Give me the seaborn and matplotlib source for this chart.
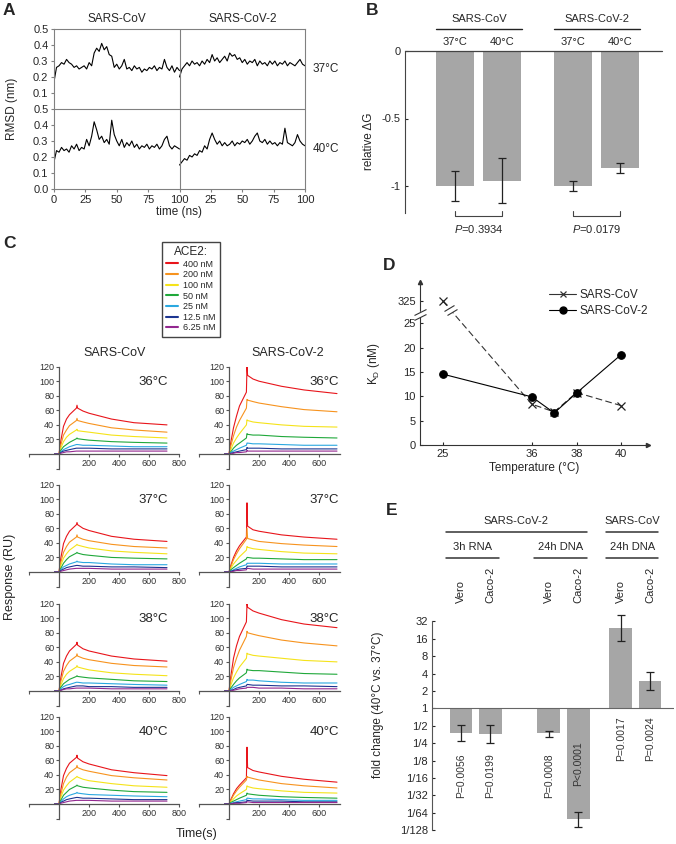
import numpy as np
import matplotlib
matplotlib.use('Agg')
import matplotlib.pyplot as plt
from matplotlib.lines import Line2D
from matplotlib.markers import MarkerStyle
from matplotlib.transforms import Affine2D
import seaborn as sns

sns.set_style('ticks')
plt.rcParams['font.family'] = ['Liberation Sans', 'DejaVu Sans']
plt.rcParams['mathtext.fontset'] = 'custom'
plt.rcParams['mathtext.rm'] = 'Liberation Sans'
plt.rcParams['mathtext.it'] = 'Liberation Sans:italic'

# ---------------- data ----------------
# A: RMSD traces (nm), every 2 ns
rmsd_time = list(range(0, 101, 2))
rmsd_cov_37 = [0.17, 0.26, 0.27, 0.29, 0.28, 0.31, 0.29, 0.28, 0.26, 0.27, 0.25, 0.26, 0.27, 0.25, 0.29, 0.27,
               0.35, 0.38, 0.36, 0.41, 0.37, 0.39, 0.34, 0.33, 0.26, 0.28, 0.25, 0.27, 0.31, 0.25, 0.26, 0.24,
               0.27, 0.25, 0.26, 0.23, 0.25, 0.24, 0.26, 0.25, 0.27, 0.24, 0.26, 0.25, 0.31, 0.26, 0.24, 0.27,
               0.23, 0.26, 0.24]
rmsd_cov2_37 = [0.20, 0.25, 0.27, 0.29, 0.27, 0.30, 0.28, 0.29, 0.27, 0.30, 0.28, 0.31, 0.29, 0.34, 0.30, 0.32,
                0.29, 0.31, 0.33, 0.30, 0.35, 0.33, 0.34, 0.31, 0.32, 0.29, 0.31, 0.28, 0.30, 0.29, 0.31, 0.27,
                0.30, 0.28, 0.29, 0.27, 0.30, 0.28, 0.30, 0.27, 0.29, 0.28, 0.30, 0.27, 0.29, 0.28, 0.27, 0.29,
                0.31, 0.28, 0.27]
rmsd_cov_40 = [0.17, 0.24, 0.23, 0.26, 0.24, 0.25, 0.23, 0.27, 0.25, 0.28, 0.24, 0.26, 0.25, 0.31, 0.27, 0.33,
               0.42, 0.37, 0.31, 0.33, 0.29, 0.31, 0.28, 0.43, 0.34, 0.30, 0.27, 0.31, 0.26, 0.29, 0.27, 0.30,
               0.26, 0.28, 0.25, 0.27, 0.26, 0.28, 0.25, 0.27, 0.26, 0.28, 0.25, 0.27, 0.31, 0.33, 0.27, 0.25,
               0.27, 0.26, 0.25]
rmsd_cov2_40 = [0.15, 0.17, 0.19, 0.18, 0.21, 0.20, 0.22, 0.21, 0.24, 0.23, 0.27, 0.25, 0.31, 0.35, 0.31, 0.28,
                0.30, 0.27, 0.29, 0.27, 0.28, 0.30, 0.27, 0.29, 0.28, 0.30, 0.29, 0.31, 0.28, 0.30, 0.33, 0.35,
                0.30, 0.29, 0.31, 0.28, 0.30, 0.28, 0.29, 0.27, 0.29, 0.28, 0.38, 0.29, 0.28, 0.27, 0.29, 0.34,
                0.30, 0.28, 0.27]

# B: relative dG
dg_labels = ['37°C', '40°C', '37°C', '40°C']
dg_vals = [-1.0, -0.96, -1.0, -0.87]
dg_err = [0.11, 0.165, 0.04, 0.037]
dg_pvals = ['$P$=0.3934', '$P$=0.0179']

# C: SPR sensorgrams (RU) for ACE2 concentrations
ace2_labels = ['400 nM', '200 nM', '100 nM', '50 nM', '25 nM', '12.5 nM', '6.25 nM']
ace2_colors = ['#e8151b', '#f7931e', '#f5e31a', '#1fa83a', '#2aa8e0', '#1c3591', '#93278f']
spr_time = [-30, 0, 12, 30, 50, 70, 116, 120, 124, 160, 200, 350, 500, 720]
spr_temps = ['36°C', '37°C', '38°C', '40°C']
cov_36 = [[0, 0, 18, 38, 48, 54, 63, 67, 63, 59, 56, 48, 43, 40],
          [0, 0, 12, 26, 33, 39, 46, 49, 46, 44, 42, 36, 33, 30],
          [0, 0, 8, 17, 23, 27, 33, 34, 32, 31, 30, 26, 24, 22],
          [0, 0, 5, 10, 13, 16, 21, 22, 21, 20, 19, 17, 16, 15],
          [0, 0, 3, 6, 8, 10, 13, 13, 13, 12, 12, 11, 10, 10],
          [0, 0, 2, 4, 5, 6, 8, 8, 8, 8, 8, 7, 7, 7],
          [0, 0, 1, 2, 3, 3, 4, 4, 4, 4, 4, 4, 4, 4]]
cov_37 = [[0, 0, 19, 39, 49, 56, 65, 68, 65, 60, 57, 49, 45, 42],
          [0, 0, 13, 27, 35, 41, 48, 51, 48, 45, 43, 38, 35, 33],
          [0, 0, 9, 19, 25, 30, 37, 38, 37, 35, 33, 29, 27, 25],
          [0, 0, 5, 12, 17, 21, 26, 27, 26, 24, 23, 20, 19, 18],
          [0, 0, 3, 7, 9, 11, 14, 15, 14, 13, 13, 11, 10, 10],
          [0, 0, 2, 4, 6, 7, 9, 9, 9, 8, 8, 7, 7, 6],
          [0, 0, 1, 2, 3, 4, 5, 5, 5, 5, 5, 4, 4, 4]]
cov_38 = [[0, 0, 18, 38, 48, 55, 64, 67, 63, 58, 55, 48, 44, 41],
          [0, 0, 13, 27, 35, 41, 48, 51, 48, 45, 43, 38, 35, 33],
          [0, 0, 8, 17, 23, 27, 33, 35, 33, 31, 29, 25, 23, 21],
          [0, 0, 5, 10, 13, 16, 20, 21, 20, 19, 18, 16, 14, 13],
          [0, 0, 3, 6, 8, 9, 12, 12, 12, 11, 11, 10, 9, 8],
          [0, 0, 1, 3, 4, 5, 7, 7, 7, 7, 6, 6, 5, 5],
          [0, 0, 1, 2, 3, 3, 4, 4, 4, 4, 4, 3, 3, 3]]
cov_40 = [[0, 0, 19, 39, 49, 56, 64, 67, 63, 58, 55, 47, 43, 39],
          [0, 0, 13, 28, 37, 43, 50, 53, 50, 47, 45, 39, 36, 33],
          [0, 0, 9, 19, 25, 30, 37, 38, 37, 34, 32, 28, 25, 23],
          [0, 0, 5, 12, 16, 20, 25, 26, 25, 23, 22, 19, 17, 16],
          [0, 0, 3, 7, 10, 12, 15, 16, 15, 14, 13, 12, 11, 10],
          [0, 0, 2, 4, 6, 7, 9, 9, 9, 8, 8, 7, 6, 6],
          [0, 0, 1, 2, 3, 4, 5, 5, 5, 5, 5, 4, 4, 4]]
cov2_36 = [[0, 0, 16, 36, 52, 66, 85, 120, 108, 103, 100, 93, 88, 83],
           [0, 0, 11, 25, 37, 46, 63, 75, 74, 72, 70, 65, 61, 58],
           [0, 0, 6, 15, 22, 28, 40, 47, 46, 44, 43, 40, 38, 37],
           [0, 0, 3, 8, 12, 15, 22, 28, 27, 26, 26, 24, 23, 22],
           [0, 0, 2, 4, 6, 8, 12, 15, 15, 14, 14, 13, 12, 12],
           [0, 0, 1, 2, 3, 4, 6, 9, 8, 8, 8, 7, 7, 7],
           [0, 0, 0, 1, 2, 2, 3, 5, 4, 4, 4, 4, 4, 4]]
cov2_37 = [[0, 0, 9, 20, 29, 36, 48, 95, 63, 58, 56, 51, 48, 45],
           [0, 0, 7, 17, 25, 32, 45, 60, 46, 44, 42, 39, 37, 35],
           [0, 0, 5, 11, 16, 21, 30, 35, 34, 32, 31, 28, 26, 25],
           [0, 0, 3, 6, 9, 12, 18, 20, 20, 19, 19, 18, 17, 17],
           [0, 0, 1, 3, 5, 7, 10, 12, 12, 12, 12, 11, 11, 11],
           [0, 0, 1, 2, 3, 4, 5, 8, 8, 8, 8, 7, 7, 7],
           [0, 0, 0, 1, 2, 2, 3, 5, 5, 4, 4, 4, 4, 4]]
cov2_38 = [[0, 0, 20, 45, 62, 75, 95, 120, 115, 110, 107, 98, 92, 87],
           [0, 0, 14, 32, 45, 56, 75, 82, 80, 78, 76, 70, 66, 62],
           [0, 0, 8, 18, 26, 33, 45, 52, 51, 49, 48, 45, 42, 40],
           [0, 0, 4, 9, 14, 18, 25, 30, 29, 28, 28, 26, 24, 23],
           [0, 0, 2, 5, 7, 9, 13, 16, 15, 15, 14, 12, 11, 11],
           [0, 0, 1, 2, 4, 5, 7, 9, 9, 8, 8, 7, 7, 6],
           [0, 0, 0, 1, 2, 3, 4, 5, 5, 5, 4, 4, 3, 3]]
cov2_40 = [[0, 0, 6, 14, 21, 26, 36, 78, 50, 46, 44, 38, 34, 30],
           [0, 0, 5, 12, 18, 23, 33, 38, 37, 35, 33, 28, 25, 22],
           [0, 0, 3, 7, 11, 14, 20, 25, 24, 22, 21, 18, 16, 15],
           [0, 0, 2, 4, 6, 8, 12, 15, 14, 13, 12, 10, 9, 8],
           [0, 0, 1, 2, 3, 4, 6, 8, 8, 7, 7, 6, 5, 5],
           [0, 0, 0, 1, 2, 2, 3, 5, 5, 4, 4, 4, 3, 3],
           [0, 0, 0, 1, 1, 1, 2, 3, 3, 2, 2, 2, 2, 2]]

# D: KD vs temperature
kd_temps = [25, 36, 37, 38, 40]
kd_cov = [325, 8.4, 6.8, 10.8, 8.1]
kd_cov2 = [14.6, 9.9, 6.6, 10.7, 18.6]

# E: fold change 40°C vs 37°C
e_cells = ['Vero', 'Caco-2', 'Vero', 'Caco-2', 'Vero', 'Caco-2']
e_fold = [0.37, 0.36, 0.37, 0.012, 24.5, 3.0]
e_lo = [0.275, 0.25, 0.32, 0.0088, 14.4, 2.07]
e_hi = [0.51, 0.51, 0.41, 0.0163, 42.0, 4.29]
e_pvals = ['P=0.0056', 'P=0.0199', 'P=0.0008', 'P<0.0001', 'P=0.0017', 'P=0.0024']
e_ticklabels = ['1/128', '1/64', '1/32', '1/16', '1/8', '1/4', '1/2', '1', '2', '4', '8', '16', '32']

# ---------------- figure ----------------
W, H = 676, 844
fig = plt.figure(figsize=(W / 100, H / 100), dpi=100)
GRAY = '#a6a6a6'


def box(l, t, r, b):
    return [l / W, 1 - b / H, (r - l) / W, (b - t) / H]


def ftext(x, y, s, **kw):
    fig.text(x / W, 1 - y / H, s, **kw)


for letter, x, y in [('A', 3, 3), ('B', 366, 3), ('C', 3, 236), ('D', 383, 258), ('E', 386, 503)]:
    ftext(x, y, letter, fontsize=12.5, fontweight='bold', va='top')

# ---- A ----
axA = fig.add_axes(box(54, 29, 305, 189))
tA = np.array(rmsd_time)
for vals, dx, dy in [(rmsd_cov_37, 0, 0.5), (rmsd_cov2_37, 100, 0.5),
                     (rmsd_cov_40, 0, 0.0), (rmsd_cov2_40, 100, 0.0)]:
    sns.lineplot(x=tA + dx, y=np.array(vals) + dy, ax=axA, color='black', linewidth=0.8)
axA.axvline(100, color='#808080', lw=0.8)
axA.axhline(0.5, color='#808080', lw=0.8)
axA.set_xlim(0, 200)
axA.set_ylim(0, 1)
axA.set_xticks(np.arange(0, 201, 25))
axA.set_xticklabels(['0', '25', '50', '75', '100', '25', '50', '75', '100'])
axA.set_yticks(np.linspace(0, 1, 11))
axA.set_yticklabels(['0.0', '0.1', '0.2', '0.3', '0.4', '0.5', '0.1', '0.2', '0.3', '0.4', '0.5'])
axA.tick_params(labelsize=8, length=2.5, width=0.8, pad=1.5, color='#808080')
for sp in axA.spines.values():
    sp.set_color('#808080')
    sp.set_linewidth(0.8)
axA.set_xlabel('time (ns)', fontsize=8.5, labelpad=1)
axA.set_ylabel('RMSD (nm)', fontsize=8.5)
axA.yaxis.set_label_coords(-0.145, 0.5)
for xc, name in [(50, 'SARS-CoV'), (150, 'SARS-CoV-2')]:
    axA.text(xc, 1.0625, name, transform=axA.get_xaxis_transform(), ha='center', va='center', fontsize=8.5)
axA.text(1.03, 0.75, '37°C', transform=axA.transAxes, ha='left', va='center', fontsize=8.5)
axA.text(1.03, 0.25, '40°C', transform=axA.transAxes, ha='left', va='center', fontsize=8.5)

# ---- B ----
axB = fig.add_axes(box(405, 51, 662, 213))
dg_pos = [0, 1, 2.5, 3.5]
sns.barplot(x=dg_pos, y=dg_vals, native_scale=True, width=0.81, color=GRAY, saturation=1,
            errorbar=None, linewidth=0, ax=axB)
axB.errorbar(dg_pos, dg_vals, yerr=dg_err, fmt='none', ecolor='#222', elinewidth=0.9,
             capsize=3, capthick=0.9, clip_on=False)
axB.set_xlim(-1.06, 4.39)
axB.set_ylim(-1.2, 0)
axB.axhline(0, color='#444', lw=0.9, clip_on=False)
for s in ['top', 'right', 'bottom']:
    axB.spines[s].set_visible(False)
axB.spines['left'].set_color('#444')
axB.spines['left'].set_linewidth(0.8)
axB.set_xticks([])
axB.set_yticks([-1, -0.5, 0])
axB.set_yticklabels(['-1', '-0.5', '0'])
axB.tick_params(axis='y', labelsize=8, length=2, width=0.8, direction='in', pad=3)
axB.set_ylabel('relative ΔG', fontsize=8.5)
axB.yaxis.set_label_coords(-0.115, 0.44)
trB = axB.get_xaxis_transform()
for x, lab in zip(dg_pos, dg_labels):
    axB.text(x, 1.056, lab, transform=trB, ha='center', va='center', fontsize=8)
for i, name in [(0, 'SARS-CoV'), (2, 'SARS-CoV-2')]:
    x0, x1 = dg_pos[i] - 0.4, dg_pos[i + 1] + 0.42
    axB.plot([x0, x1], [1.136, 1.136], transform=trB, color='#222', lw=1.0, clip_on=False)
    axB.text((x0 + x1) / 2, 1.198, name, transform=trB, ha='center', va='center', fontsize=8)
    xa, xb = dg_pos[i], dg_pos[i + 1]
    axB.plot([xa, xa, xb, xb], [0.014, -0.019, -0.019, 0.014], transform=trB, color='#444', lw=0.8,
             clip_on=False)
    axB.text((xa + xb) / 2, -0.1, dg_pvals[i // 2], transform=trB, ha='center', va='center', fontsize=8)

# ---- C ----
row_zero = [454, 572, 691, 804]
px_per_ru = 0.728
px_per_s = 0.15
cov_panels = [cov_36, cov_37, cov_38, cov_40]
cov2_panels = [cov2_36, cov2_37, cov2_38, cov2_40]
for r in range(4):
    z = row_zero[r]
    for panels, xl, xmax, xticks in [(cov_panels, 29, 800, [-200, 200, 400, 600, 800]),
                                     (cov2_panels, 199, 740, [-200, 200, 400, 600])]:
        xr = xl + (xmax + 200) * px_per_s
        ax = fig.add_axes(box(xl, z - 120 * px_per_ru, xr, z + 20 * px_per_ru))
        for vals, col in zip(panels[r], ace2_colors):
            sns.lineplot(x=np.array(spr_time), y=np.array(vals), ax=ax, color=col, linewidth=0.8)
        ax.set_xlim(-200, xmax)
        ax.set_ylim(-20, 120)
        ax.spines['left'].set_position(('data', 0))
        ax.spines['bottom'].set_position(('data', 0))
        ax.spines['top'].set_visible(False)
        ax.spines['right'].set_visible(False)
        for s in ['left', 'bottom']:
            ax.spines[s].set_color('#555')
            ax.spines[s].set_linewidth(0.9)
        ax.set_xticks(xticks)
        ax.set_xticklabels([''] + [str(v) for v in xticks[1:]])
        ax.set_yticks([-20, 20, 40, 60, 80, 100, 120])
        ax.set_yticklabels(['', '20', '40', '60', '80', '100', '120'])
        ax.tick_params(labelsize=6.5, length=2.5, width=0.8, pad=1, color='#555', labelcolor='#333')
        ax.patch.set_alpha(0)
        tx = 0.83 if xmax == 800 else 0.89
        ax.text(tx, 0.85, spr_temps[r], transform=ax.transAxes, ha='center', va='center', fontsize=9.5)

ftext(115, 353, 'SARS-CoV', ha='center', va='center', fontsize=9)
ftext(288, 353, 'SARS-CoV-2', ha='center', va='center', fontsize=9)
ftext(10, 577, 'Response (RU)', rotation=90, ha='center', va='center', fontsize=9)
ftext(197, 834, 'Time(s)', ha='center', va='center', fontsize=9)
handles = [Line2D([], [], color=c, lw=1.5) for c in ace2_colors]
fig.legend(handles, ace2_labels, title='ACE2:', loc='upper center', bbox_to_anchor=(191 / W, 1 - 237 / H),
           fontsize=6.5, title_fontsize=8.5, handlelength=1.3, handletextpad=0.6, labelspacing=0.18,
           borderpad=0.5, fancybox=False, edgecolor='#444', framealpha=1)

# ---- D ----
axD = fig.add_axes(box(420, 281.7, 648, 445))
kd_pos = [0, 2, 2.5, 3, 4]
break_y = 29.7
cov_plot = np.array([v if v <= 25 else break_y for v in kd_cov])
sns.lineplot(x=np.array(kd_pos), y=cov_plot, ax=axD, color='#333', linewidth=0.8,
             linestyle=(0, (6, 3)), marker='x', markersize=6, markeredgecolor='#222', markeredgewidth=0.9)
sns.lineplot(x=np.array(kd_pos), y=np.array(kd_cov2), ax=axD, color='black', linewidth=0.8,
             marker='o', markersize=5.5, markeredgecolor='black')
axD.set_xlim(-0.505, 4.6)
axD.set_ylim(0, 33.6)
for s in ['top', 'right']:
    axD.spines[s].set_visible(False)
for s in ['left', 'bottom']:
    axD.spines[s].set_color('#333')
    axD.spines[s].set_linewidth(0.8)
axD.set_xticks([kd_pos[0], kd_pos[1], kd_pos[3], kd_pos[4]])
axD.set_xticklabels([str(kd_temps[i]) for i in [0, 1, 3, 4]])
axD.set_yticks([0, 5, 10, 15, 20, 25, break_y])
axD.set_yticklabels(['0', '5', '10', '15', '20', '25', '325'])
axD.tick_params(labelsize=8, length=2.5, width=0.8, direction='in', pad=3)
axD.set_xlabel('Temperature (°C)', fontsize=8.5, labelpad=2)
axD.set_ylabel(r'K$_\mathrm{D}$ (nM)', fontsize=8.5)
axD.yaxis.set_label_coords(-0.165, 0.5)
axD.plot(0, 1, marker='^', color='#333', markersize=3, transform=axD.transAxes, clip_on=False)
axD.plot(1, 0, marker='>', color='#333', markersize=3, transform=axD.transAxes, clip_on=False)
slash = MarkerStyle('_', transform=Affine2D().rotate_deg(28))
# axis break on y axis
axD.plot(-0.505, 26.9, marker=slash, markersize=9, markeredgewidth=3.5, color='white', clip_on=False, zorder=5)
for yb in [26.4, 27.4]:
    axD.plot(-0.505, yb, marker=slash, markersize=9, markeredgewidth=0.8, color='#333', clip_on=False, zorder=6)
# break on the SARS-CoV line
p0 = np.array([kd_pos[0], cov_plot[0]])
p1 = np.array([kd_pos[1], cov_plot[1]])
for s, col, mew in [(0.09, 'white', 3.5), (0.075, '#333', 0.8), (0.105, '#333', 0.8)]:
    pt = p0 + s * (p1 - p0)
    axD.plot(pt[0], pt[1], marker=slash, markersize=8, markeredgewidth=mew, color=col, zorder=5)
legD = [Line2D([], [], color='#333', lw=0.8, marker='x', markersize=5, markeredgewidth=0.9),
        Line2D([], [], color='black', lw=0.8, marker='o', markersize=5)]
axD.legend(legD, ['SARS-CoV', 'SARS-CoV-2'], loc='upper left', bbox_to_anchor=(0.54, 0.99), frameon=False,
           fontsize=8.5, handlelength=2.3, handletextpad=0.3, labelspacing=0.3, borderpad=0)

# ---- E ----
axE = fig.add_axes(box(432, 610.9, 674, 830.1))
e_pos = [0, 1, 3, 4, 5.45, 6.45]
e_log = np.log2(e_fold)
sns.barplot(x=e_pos, y=e_log, native_scale=True, width=0.78, color=GRAY, saturation=1,
            errorbar=None, linewidth=0, ax=axE)
axE.errorbar(e_pos, e_log, yerr=[e_log - np.log2(e_lo), np.log2(e_hi) - e_log], fmt='none',
             ecolor='#222', elinewidth=0.9, capsize=3, capthick=0.9, clip_on=False)
axE.set_xlim(-0.99, 7.27)
axE.set_ylim(-7, 5.6)
axE.axhline(0, color='#666', lw=0.8)
for s in ['top', 'right', 'bottom']:
    axE.spines[s].set_visible(False)
axE.spines['left'].set_bounds(-7, 5)
axE.spines['left'].set_color('#555')
axE.spines['left'].set_linewidth(0.8)
axE.set_xticks([])
axE.set_yticks(np.arange(-7, 6))
axE.set_yticklabels(e_ticklabels)
axE.tick_params(axis='y', labelsize=8, length=2, width=0.8, direction='in', pad=3)
axE.set_ylabel('fold change (40°C vs. 37°C)', fontsize=8.5)
axE.yaxis.set_label_coords(-0.2, 0.57)
trE = axE.get_xaxis_transform()
for x, lab in zip(e_pos, e_cells):
    axE.text(x, 1.036, lab, transform=trE, rotation=90, ha='center', va='bottom', fontsize=8)
p_top = [-2.57, -2.57, -2.57, -1.92, -0.48, -0.48]
for x, p, yt in zip(e_pos, e_pvals, p_top):
    axE.text(x, yt, p, rotation=90, ha='center', va='top', fontsize=7.5, color='#333')
for i0, i1, y_line, y_txt, name in [(0, 3, 1.361, 1.41, 'SARS-CoV-2'), (4, 5, 1.361, 1.41, 'SARS-CoV'),
                                    (0, 1, 1.243, 1.29, '3h RNA'), (2, 3, 1.243, 1.29, '24h DNA'),
                                    (4, 5, 1.243, 1.29, '24h DNA')]:
    x0, x1 = e_pos[i0] - 0.51, e_pos[i1] + 0.29
    axE.plot([x0, x1], [y_line, y_line], transform=trE, color='#333', lw=1.1, clip_on=False)
    axE.text((x0 + x1) / 2, y_txt, name, transform=trE, ha='center', va='center', fontsize=8)

fig.savefig('out.png', dpi=100)
